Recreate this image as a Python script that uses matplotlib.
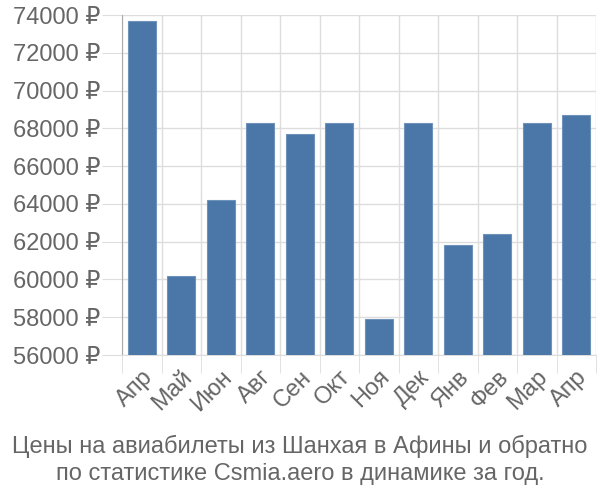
import matplotlib
matplotlib.use("Agg")
import matplotlib.pyplot as plt
import numpy as np

# monthly prices, Shanghai -> Athens
months = ['Апр', 'Май', 'Июн', 'Авг', 'Сен', 'Окт', 'Ноя', 'Дек', 'Янв', 'Фев', 'Мар', 'Апр']
prices = [73700, 60200, 64200, 68300, 67700, 68300, 57900, 68300, 61850, 62400, 68300, 68700]
yticks = list(range(56000, 74001, 2000))
title = "Цены на авиабилеты из Шанхая в Афины и обратно\nпо статистике Csmia.aero в динамике за год."

plt.rcParams['font.family'] = ['Liberation Sans Narrow', 'Liberation Sans', 'DejaVu Sans']
grey = '#666666'
gridc = '#dddddd'

fig = plt.figure(figsize=(6, 5), dpi=100)
ax = fig.add_axes([122 / 600, 145 / 500, 474 / 600, 340 / 500])

x = np.arange(len(months))
ax.bar(x, prices, width=0.72, bottom=0, color='#4a76a8', edgecolor='#6f92bb', linewidth=0.8, zorder=3)

ax.set_xlim(-0.5, len(months) - 0.5)
ax.set_ylim(56000, 74000)
ax.set_yticks(yticks)
ax.set_yticklabels([f"{v} ₽" for v in yticks])
ax.set_xticks(x)
ax.set_xticklabels(months, rotation=45, ha='right', rotation_mode='anchor')
ax.set_xticks(np.arange(len(months) + 1) - 0.5, minor=True)

# light grid, ticks drawn in the same colour (lengths in points)
ax.grid(axis='y', color=gridc, linewidth=1, zorder=0)
ax.grid(axis='x', which='minor', color=gridc, linewidth=1, zorder=0)
ax.tick_params(axis='y', length=14.5, color=gridc, labelsize=17, labelcolor=grey, pad=1)
ax.tick_params(axis='x', which='major', length=0, labelsize=17, labelcolor=grey, pad=8)
ax.tick_params(axis='x', which='minor', length=13, color=gridc)

for s in ['top', 'right']:
    ax.spines[s].set_visible(False)
ax.spines['left'].set_color('#aaaaaa')
ax.spines['bottom'].set_color(gridc)

fig.text(0.5, 0.08, title, ha='center', va='center', fontsize=17, color=grey, linespacing=1.25)

fig.savefig('out.png', dpi=100)
